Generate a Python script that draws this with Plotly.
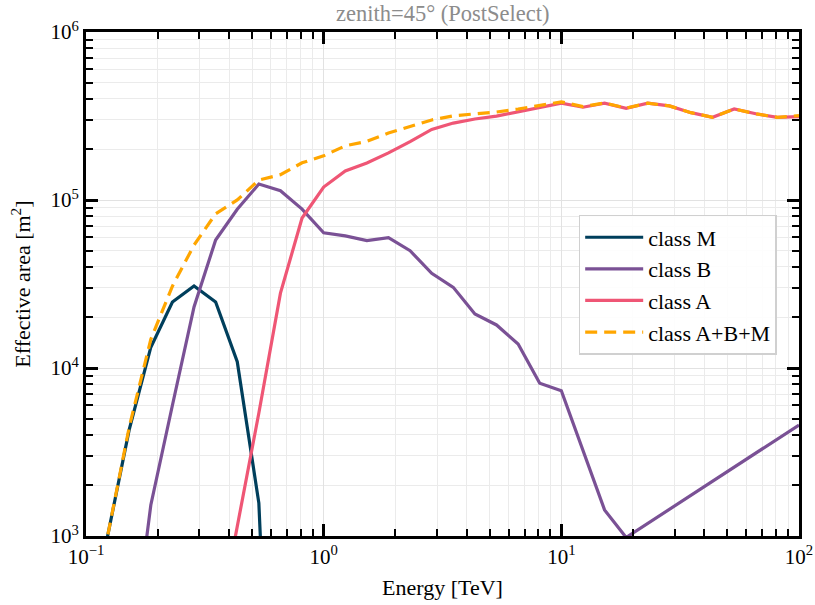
import plotly.graph_objects as go

# Energy bin centres [TeV] (11 bins per decade)
energy = [0.1, 0.1233, 0.152, 0.1874, 0.231, 0.2848, 0.3511, 0.4329, 0.5337, 0.6579,
          0.8111, 1.0, 1.233, 1.52, 1.874, 2.31, 2.848, 3.511, 4.329, 5.337,
          6.579, 8.111, 10.0, 12.33, 15.2, 18.74, 23.1, 28.48, 35.11, 43.29,
          53.37, 65.79, 81.11, 100.0]

# Effective area per event class [m^2]
area_M = [100, 1000, 4300, 13300, 24700, 30800, 24700, 10900, 1570, 2,
          None, None, None, None, None, None, None, None, None, None,
          None, None, None, None, None, None, None, None, None, None,
          None, None, None, None]
area_B = [None, None, 150, 1530, 6000, 23100, 57800, 88000, 124500, 113600,
          88300, 63800, 61100, 57300, 59700, 49900, 36600, 30200, 20960, 18040,
          13900, 8110, 7330, 3220, 1430, 980, None, None, None, None,
          None, None, None, 4580]
area_A = [None, None, None, None, None, None, 240, 1140, 5400, 27900,
          78100, 119400, 149000, 166000, 190600, 222800, 263000, 287000, 303600, 316000,
          334000, 355500, 376700, 356600, 376700, 351600, 376700, 363000, 331000, 310600,
          348400, 326000, 310600, 313500]

# Decade tick positions and labels
x_ticks = [0.1, 1, 10, 100]
x_labels = ["10<sup>\u22121</sup>", "10<sup>0</sup>", "10<sup>1</sup>", "10<sup>2</sup>"]
y_ticks = [1e3, 1e4, 1e5, 1e6]
y_labels = ["10<sup>3</sup>", "10<sup>4</sup>", "10<sup>5</sup>", "10<sup>6</sup>"]

# Combined class A+B+M
area_sum = []
for m, b, a in zip(area_M, area_B, area_A):
    vals = [v for v in (m, b, a) if v is not None]
    area_sum.append(sum(vals) if vals else None)

series = [
    ("class M", area_M, "#003f5c", "solid"),
    ("class B", area_B, "#7a5195", "solid"),
    ("class A", area_A, "#ef5675", "solid"),
    ("class A+B+M", area_sum, "#ffa600", "12px,7px"),
]

FONT = "Liberation Serif"

fig = go.Figure()
for name, vals, color, dash in series:
    fig.add_trace(go.Scatter(
        x=energy, y=vals, name=name, mode="lines",
        connectgaps=True,
        line=dict(color=color, width=3.2, dash=dash),
    ))

axis_common = dict(
    type="log",
    automargin=False,
    showline=True, linecolor="black", linewidth=3,
    mirror="allticks",
    ticks="inside", ticklen=12, tickwidth=2.5, tickcolor="black",
    tickmode="array",
    showgrid=True, gridcolor="#e2e2e2", gridwidth=1,
    zeroline=False,
    tickfont=dict(family=FONT, size=21, color="black"),
    minor=dict(ticks="inside", ticklen=7, tickwidth=1.5, tickcolor="black",
               dtick="D1", showgrid=True, gridcolor="#ebebeb", gridwidth=1),
)

fig.update_xaxes(range=[-1, 2], tickvals=x_ticks, ticktext=x_labels,
                 title=dict(text="Energy [TeV]", standoff=12,
                            font=dict(family=FONT, size=22, color="black")),
                 **axis_common)
fig.update_yaxes(range=[3, 6], tickvals=y_ticks, ticktext=y_labels,
                 title=dict(text="Effective area [m<sup>2</sup>]", standoff=14,
                            font=dict(family=FONT, size=22, color="black")),
                 **axis_common)

fig.add_annotation(
    text="zenith=45° (PostSelect)", xref="paper", yref="paper",
    x=0.5, y=1.036, xanchor="center", yanchor="middle", showarrow=False,
    font=dict(family=FONT, size=22.5, color="#8c8c8c"),
)

fig.update_layout(
    width=815, height=605,
    margin=dict(l=86, r=16, t=32, b=69),
    paper_bgcolor="white", plot_bgcolor="white",
    legend=dict(x=0.691, y=0.637, xanchor="left", yanchor="top",
                bgcolor="rgba(255,255,255,0.9)", bordercolor="#d0d0d0", borderwidth=1.5,
                font=dict(family=FONT, size=22, color="black"),
                tracegroupgap=2, itemwidth=58),
    showlegend=True,
)

fig.write_html("out.html")
